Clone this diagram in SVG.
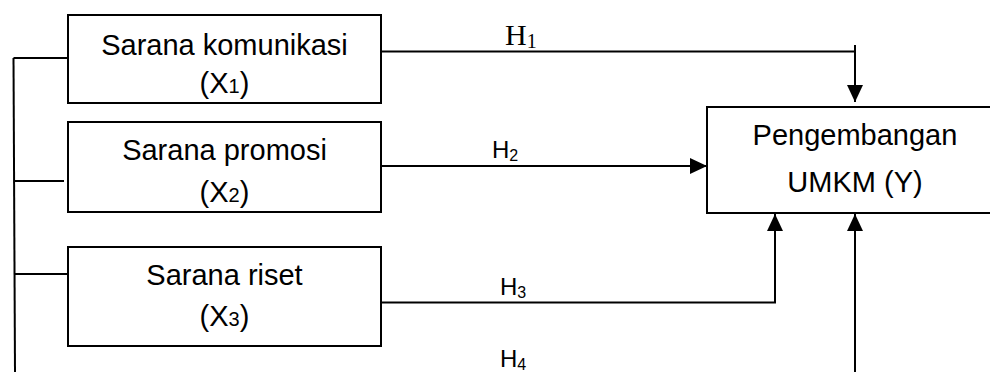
<svg xmlns="http://www.w3.org/2000/svg" width="990" height="372" viewBox="0 0 990 372">
<style>
.box{fill:#fff;stroke:#000;stroke-width:2}
.t{font-family:"Liberation Sans",Arial,sans-serif;font-size:29px;fill:#000;text-anchor:middle}
.h{font-family:"Liberation Sans",Arial,sans-serif;font-size:24px;fill:#000}
.c{fill:none;stroke:#000;stroke-width:2}
</style>
<defs>
<marker id="arr" markerUnits="userSpaceOnUse" markerWidth="17" markerHeight="16" viewBox="0 0 17 16" refX="17" refY="8" orient="auto">
<path d="M0,0 L17,8 L0,16 Z" fill="#000"/>
</marker>
</defs>
<g id="connectors">
<path class="c" d="M13.5,58 L15,372"/>
<path class="c" d="M13.5,58 H68"/>
<path class="c" d="M14,181 H64"/>
<path class="c" d="M15,274 H68"/>
<path class="c" d="M381,51.5 H855"/>
<path class="c" d="M855,45 V102" marker-end="url(#arr)"/>
<path class="c" d="M381,166 H707" marker-end="url(#arr)"/>
<path class="c" d="M381,302.5 H775 V214" marker-end="url(#arr)"/>
<path class="c" d="M855,372 V214" marker-end="url(#arr)"/>
<text font-family="'Liberation Serif','Times New Roman',serif" font-size="30" x="505" y="45">H<tspan font-size="20" dy="3">1</tspan></text>
<text class="h" x="492" y="158">H<tspan font-size="16" dy="3">2</tspan></text>
<text class="h" x="500" y="295">H<tspan font-size="16" dy="3">3</tspan></text>
<text class="h" x="500" y="367">H<tspan font-size="16" dy="3">4</tspan></text>
</g>
<g id="x1">
<rect class="box" x="68" y="15" width="313" height="88"/>
<text class="t" x="224.5" y="55">Sarana komunikasi</text>
<text class="t" x="224.5" y="93">(X<tspan font-size="20">1</tspan>)</text>
</g>
<g id="x2">
<rect class="box" x="68" y="122" width="313" height="90"/>
<text class="t" x="224.5" y="160">Sarana promosi</text>
<text class="t" x="224.5" y="202">(X<tspan font-size="20">2</tspan>)</text>
</g>
<g id="x3">
<rect class="box" x="68" y="247" width="313" height="99"/>
<text class="t" x="224.5" y="285">Sarana riset</text>
<text class="t" x="224.5" y="326">(X<tspan font-size="20">3</tspan>)</text>
</g>
<g id="y">
<rect class="box" x="707" y="107" width="300" height="106"/>
<text class="t" x="855" y="145">Pengembangan</text>
<text class="t" x="855" y="192">UMKM (Y)</text>
</g>
</svg>
